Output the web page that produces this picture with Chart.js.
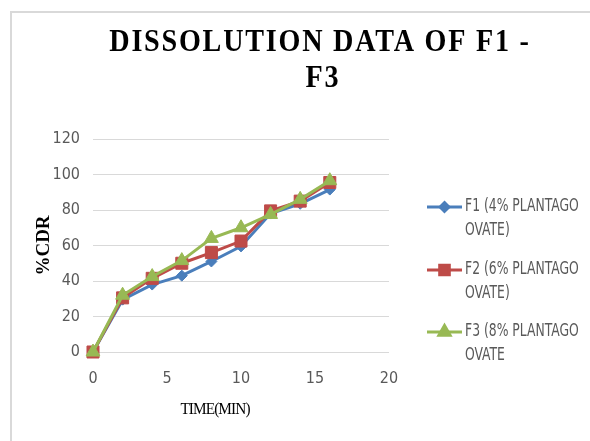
<!DOCTYPE html>
<html>
<head>
<meta charset="utf-8">
<script src="https://cdn.jsdelivr.net/npm/chart.js@4/dist/chart.umd.min.js"></script>
<style>
  html, body { margin: 0; padding: 0; background: #fff; }
  #wrap { width: 590px; height: 441px; position: relative; }
</style>
</head>
<body>
<div id="wrap"><canvas id="myChart" width="590" height="441"></canvas></div>
<script>
// data dissolusi (menit vs %CDR)
const timeMin = [0, 2, 4, 6, 8, 10, 12, 14, 16];
const f1Values = [0, 29.5, 38, 43, 51, 59.5, 78, 83.5, 91.5];
const f2Values = [0, 30.5, 41.5, 50, 56, 62.5, 79.5, 85, 95.5];
const f3Values = [0, 32, 42.5, 51.5, 64, 70, 77.5, 86, 96.5];
const seriesNames = [
    ['F1 (4% PLANTAGO', 'OVATE)'],
    ['F2 (6% PLANTAGO', 'OVATE)'],
    ['F3 (8% PLANTAGO', 'OVATE']
];
const titleLines = ['DISSOLUTION DATA OF F1 -', 'F3'];
const xTitle = 'TIME(MIN)';

const narrowFont = "'Liberation Sans Narrow', 'DejaVu Sans Condensed', sans-serif";
const serifFont = "'Liberation Serif', 'DejaVu Serif', serif";
const tickColor = '#595959';

const styles = [
    { color: '#4a7ebb', pointStyle: 'rectRot', radius: 5.5 },
    { color: '#be4b48', pointStyle: 'rect', radius: 8.5 },
    { color: '#98b954', pointStyle: 'triangle', radius: 8 }
];

function toPoints(values) {
    return timeMin.map((t, i) => ({ x: t, y: values[i] }));
}

// seri terakhir digambar paling atas
const datasets = [f1Values, f2Values, f3Values].map((vals, i) => ({
    label: seriesNames[i].join(' '),
    data: toPoints(vals),
    borderColor: styles[i].color,
    backgroundColor: styles[i].color,
    borderWidth: 3,
    pointStyle: styles[i].pointStyle,
    pointRadius: styles[i].radius,
    pointHoverRadius: styles[i].radius,
    pointBorderWidth: 1,
    tension: 0,
    clip: false,
    order: 3 - i
}));

// teks yang dipadatkan secara horizontal agar lebarnya pas
function fillCondensed(ctx, text, x, y, scaleX, align) {
    ctx.save();
    ctx.translate(x, y);
    ctx.scale(scaleX, 1);
    ctx.textAlign = align;
    ctx.fillText(text, 0, 0);
    ctx.restore();
}

// bingkai, judul, judul sumbu x dan legenda digambar manual
const decorPlugin = {
    id: 'decor',
    beforeDraw(chart) {
        const ctx = chart.ctx;
        ctx.save();
        ctx.strokeStyle = '#d9d9d9';
        ctx.lineWidth = 2;
        ctx.beginPath();
        ctx.moveTo(11, 441);
        ctx.lineTo(11, 12);
        ctx.lineTo(590, 12);
        ctx.stroke();
        ctx.restore();
    },
    afterDraw(chart) {
        const ctx = chart.ctx;
        ctx.save();
        ctx.textBaseline = 'middle';

        // judul
        ctx.fillStyle = '#000';
        ctx.font = 'bold 32px ' + serifFont;
        ctx.letterSpacing = '2px';
        fillCondensed(ctx, titleLines[0], 320, 43, 0.88, 'center');
        fillCondensed(ctx, titleLines[1], 323, 79, 0.88, 'center');
        ctx.letterSpacing = '0px';

        // judul sumbu x
        ctx.font = '17px ' + serifFont;
        ctx.letterSpacing = '-1px';
        fillCondensed(ctx, xTitle, 215, 410, 0.9, 'center');
        ctx.letterSpacing = '0px';

        // legenda
        const tops = [207, 270, 332];
        ctx.font = '17px ' + narrowFont;
        chart.data.datasets.forEach((ds, i) => {
            const y = tops[i];
            ctx.strokeStyle = ds.borderColor;
            ctx.lineWidth = 3;
            ctx.beginPath();
            ctx.moveTo(427, y);
            ctx.lineTo(462, y);
            ctx.stroke();
            ctx.fillStyle = ds.backgroundColor;
            Chart.helpers.drawPoint(ctx, {
                pointStyle: ds.pointStyle,
                radius: ds.pointRadius * 0.8,
                rotation: 0,
                borderWidth: 1
            }, 444.5, y);
            ctx.fillStyle = tickColor;
            seriesNames[i].forEach((line, j) => {
                fillCondensed(ctx, line, 465, y + j * 24, 0.81, 'left');
            });
        });
        ctx.restore();
    }
};

const ctx = document.getElementById('myChart').getContext('2d');
new Chart(ctx, {
    type: 'line',
    data: { datasets },
    plugins: [decorPlugin],
    options: {
        responsive: false,
        animation: false,
        layout: { padding: { top: 139, right: 201, bottom: 10, left: 12 } },
        plugins: {
            legend: { display: false },
            title: { display: false },
            tooltip: { enabled: false }
        },
        scales: {
            x: {
                type: 'linear',
                min: 0,
                max: 20,
                ticks: {
                    stepSize: 5,
                    color: tickColor,
                    padding: 17,
                    font: { family: narrowFont, size: 16 }
                },
                grid: { display: false, drawTicks: false },
                border: { display: false },
                afterFit(scale) { scale.height = 79; }
            },
            y: {
                min: 0,
                max: 120,
                ticks: {
                    stepSize: 20,
                    color: tickColor,
                    padding: 13,
                    font: { family: narrowFont, size: 16 }
                },
                grid: { color: '#d9d9d9', lineWidth: 1, drawTicks: false },
                border: { display: false },
                title: {
                    display: true,
                    text: '%CDR',
                    color: '#000',
                    font: { family: serifFont, size: 19, weight: 'bold' },
                    padding: { top: 21, bottom: 0 }
                },
                afterFit(scale) { scale.width = 81; }
            }
        }
    }
});
</script>
</body>
</html>
